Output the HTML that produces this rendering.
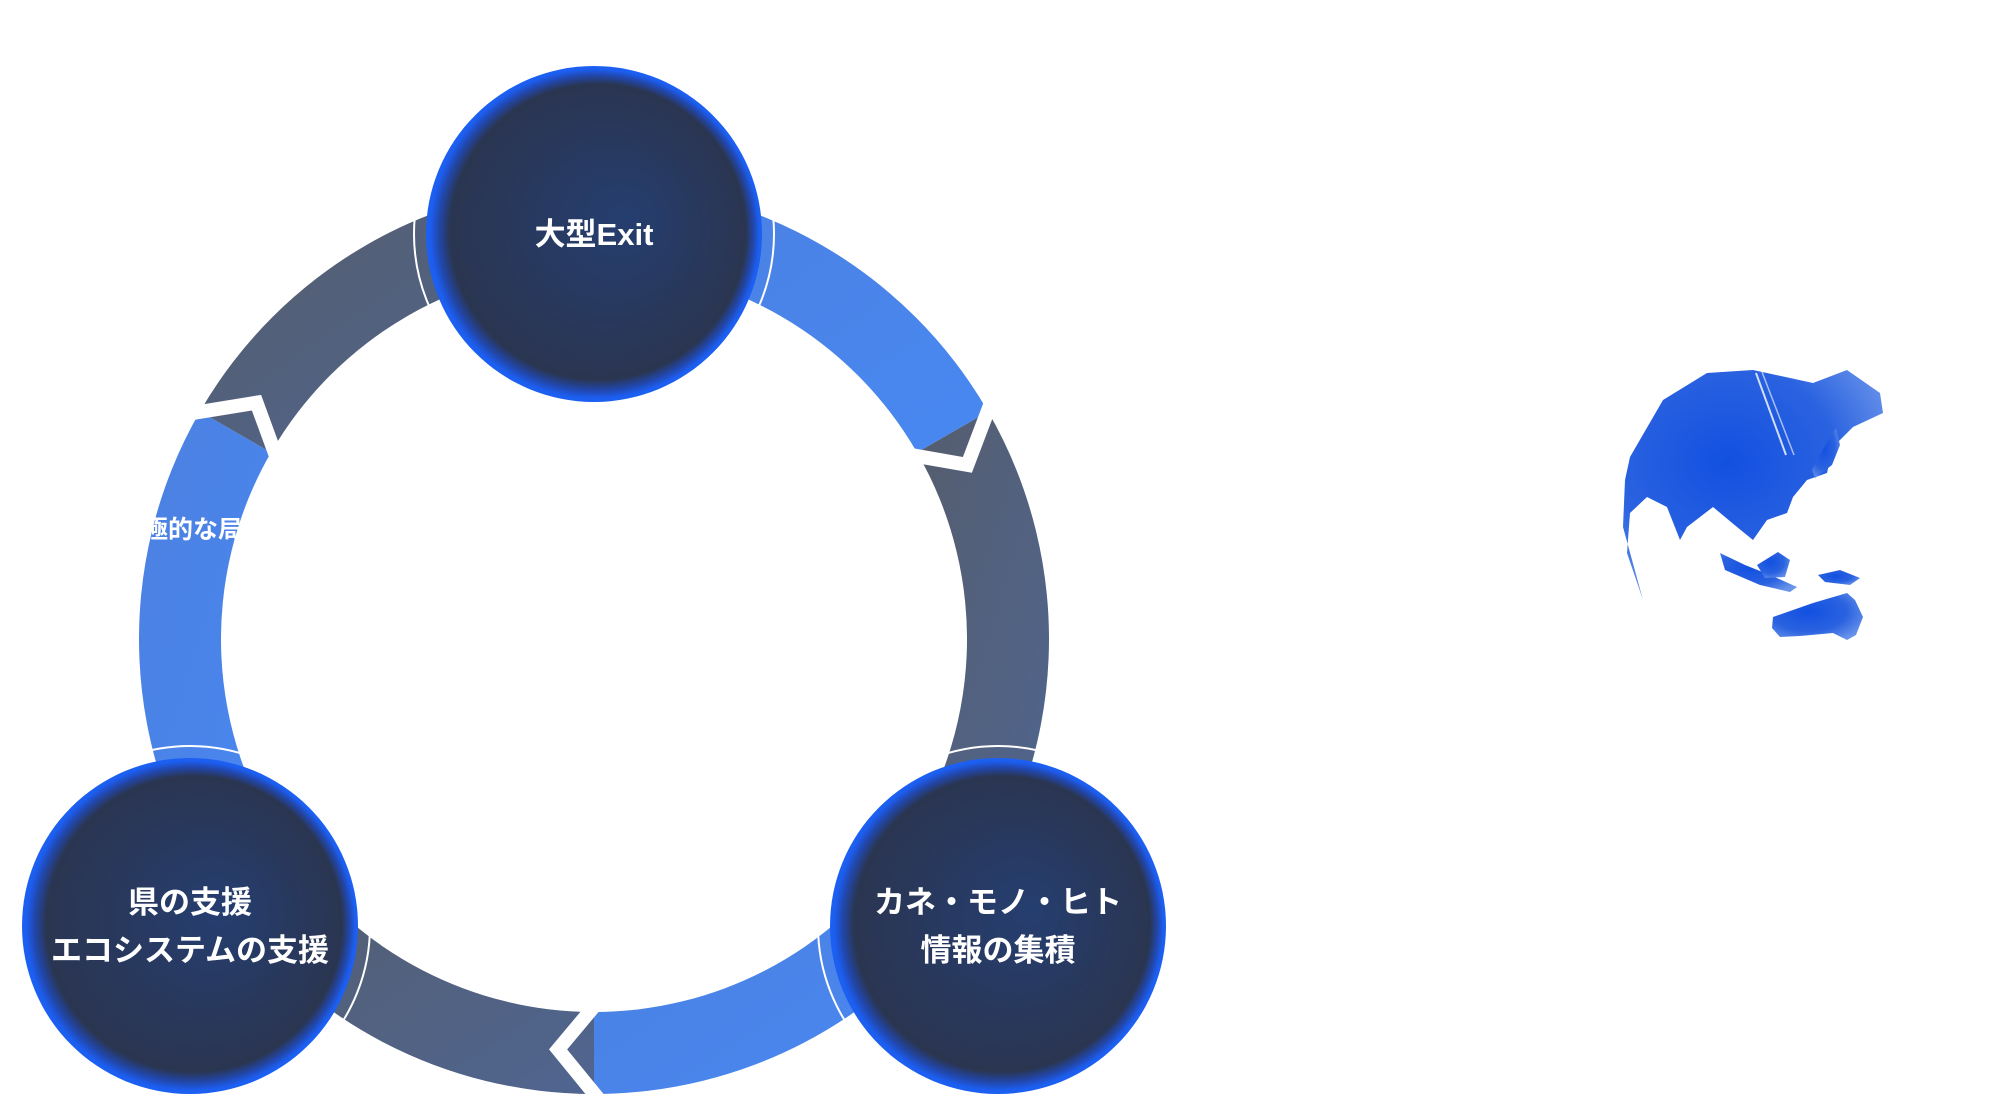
<!DOCTYPE html>
<html><head><meta charset="utf-8">
<style>
html,body{margin:0;padding:0;background:#fff;overflow:hidden;}
svg{display:block;}
text{font-family:"Liberation Sans","Noto Sans CJK JP",sans-serif;font-weight:bold;fill:#fff;}
</style></head>
<body>
<svg id="s" width="2006" height="1110" viewBox="0 0 2006 1110" xmlns="http://www.w3.org/2000/svg">
<defs>
<linearGradient id="blue" x1="0" y1="0" x2="1" y2="1">
<stop offset="0" stop-color="#4c80e0"/><stop offset="1" stop-color="#4888f2"/></linearGradient>
<linearGradient id="gray" x1="0" y1="0" x2="1" y2="1">
<stop offset="0" stop-color="#555d6c"/><stop offset="1" stop-color="#4f6590"/></linearGradient>
<radialGradient id="cg" cx="0.5" cy="0.5" r="0.5" fx="0.6" fy="0.45">
<stop offset="0" stop-color="#253e70"/><stop offset="0.8" stop-color="#2a3654"/><stop offset="0.88" stop-color="#2a3550"/><stop offset="0.94" stop-color="#2148b0"/><stop offset="0.98" stop-color="#1c5ef0"/><stop offset="1" stop-color="#1c60f2"/></radialGradient>
<radialGradient id="gl" cx="0.4" cy="0.4" r="0.7">
<stop offset="0" stop-color="#1250e0"/><stop offset="0.6" stop-color="#2a62e0"/><stop offset="1" stop-color="#6a94ea"/></radialGradient>
</defs>
<g id="ring"></g>
<text x="118" y="538" font-size="25">積極的な局</text>
<g id="circles"></g>
<g fill="url(#gl)">
<path d="M1630,457 L1663,400 L1707,373 L1753,370 L1813,383 L1847,370 L1880,393 L1883,413 L1853,427 L1833,447 L1827,473 L1807,480 L1793,497 L1787,513 L1767,520 L1753,540 L1737,527 L1713,507 L1687,527 L1680,540 L1667,507 L1647,497 L1630,513 L1627,553 L1643,600 L1623,527 L1625,480 Z"/>
<path d="M1720,553 L1745,565 L1770,575 L1797,587 L1790,592 L1760,585 L1725,570 Z"/>
<path d="M1757,565 L1778,552 L1790,560 L1785,577 L1765,578 Z"/>
<path d="M1818,575 L1840,570 L1860,578 L1850,585 L1825,582 Z"/>
<path d="M1773,617 L1813,603 L1847,593 L1855,600 L1863,617 L1856,635 L1847,640 L1833,633 L1800,636 L1780,637 L1772,628 Z"/>
<path d="M1828,440 L1836,428 L1840,445 L1832,465 L1815,478 L1812,470 Z"/>
</g>
<path d="M1756,373 L1786,455" stroke="#fff" stroke-width="2" opacity="0.8"/>
<path d="M1762,372 L1794,455" stroke="#fff" stroke-width="1.5" opacity="0.6"/>
</svg>
<script>
var NS="http://www.w3.org/2000/svg",cx=594,cy=639,Ro=455,Ri=373;
function P(r,a){a=a*Math.PI/180;return [cx+r*Math.cos(a),cy-r*Math.sin(a)];}
function sector(a1,a2){
 var p1=P(Ro,a1),p2=P(Ro,a2),p3=P(Ri,a2),p4=P(Ri,a1);
 return "M"+p1+" A"+Ro+","+Ro+" 0 0 1 "+p2+" L"+p3+" A"+Ri+","+Ri+" 0 0 0 "+p4+" Z";}
var ring=document.getElementById("ring");
var segs=[[90,30,"blue"],[30,-35,"gray"],[-35,-90,"blue"],[-90,-145,"gray"],[215,150,"blue"],[150,90,"gray"]];
segs.forEach(function(s){var e=document.createElementNS(NS,"path");e.setAttribute("d",sector(s[0],s[1]));e.setAttribute("fill","url(#"+s[2]+")");ring.appendChild(e);});
[30,-90,150].forEach(function(t){var a=P(Ro+20,t+2),b=P(412,t-5),c=P(Ri-20,t+2);
 var e=document.createElementNS(NS,"polyline");e.setAttribute("points",a+" "+b+" "+c);e.setAttribute("fill","none");e.setAttribute("stroke","#fff");e.setAttribute("stroke-width","14");ring.appendChild(e);});
var cs=document.getElementById("circles");
var data=[[594,234,["大型Exit"]],[190,926,["県の支援","エコシステムの支援"]],[998,926,["カネ・モノ・ヒト","情報の集積"]]];
data.forEach(function(d){
 var o=document.createElementNS(NS,"circle");o.setAttribute("cx",d[0]);o.setAttribute("cy",d[1]);o.setAttribute("r",180);o.setAttribute("fill","none");o.setAttribute("stroke","#fff");o.setAttribute("stroke-width","2");cs.appendChild(o);
 var c=document.createElementNS(NS,"circle");c.setAttribute("cx",d[0]);c.setAttribute("cy",d[1]);c.setAttribute("r",168);c.setAttribute("fill","url(#cg)");cs.appendChild(c);
 var n=d[2].length;d[2].forEach(function(t,i){var tx=document.createElementNS(NS,"text");tx.setAttribute("x",d[0]);tx.setAttribute("y",d[1]+11+(i-(n-1)/2)*48);tx.setAttribute("text-anchor","middle");tx.setAttribute("font-size","31");tx.textContent=t;cs.appendChild(tx);});
});
</script>
</body></html>
